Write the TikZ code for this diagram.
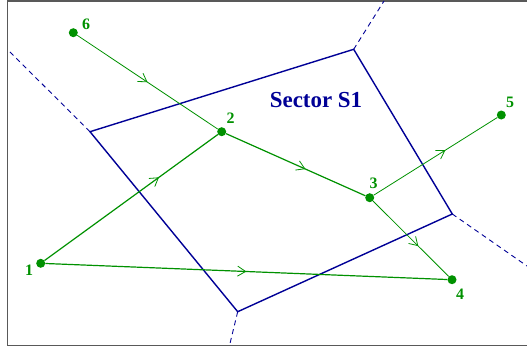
\documentclass[tikz,border=0pt]{standalone}
\usepackage{fontspec}
\setmainfont{Liberation Serif}
\usetikzlibrary{arrows.meta,decorations.markings}
\definecolor{pgreen}{RGB}{0,145,0}
\definecolor{pblue}{RGB}{0,0,150}
\tikzset{
  dot/.style={circle,fill=pgreen,draw=none,minimum size=9bp,inner sep=0pt},
  lbl/.style={text=pgreen,font=\fontsize{16}{16}\selectfont\bfseries,anchor=base,inner sep=0pt},
  flow/.style={draw=pgreen,line width=0.8bp,postaction={decorate},
    decoration={markings,mark=at position #1 with {\arrow{Straight Barb[length=8bp,width=10bp,line width=0.8bp]}}}},
  flowthick/.style={flow=#1,line width=1.2bp},
  border/.style={draw=pblue,line width=1.4bp,line join=miter},
  bisect/.style={draw=pblue,line width=0.9bp,dash pattern=on 5bp off 4bp},
  frame/.style={draw=black!65,line width=1.3bp}
}
\begin{document}
\begin{tikzpicture}[x=1bp,y=-1bp]
\useasboundingbox (0,0) rectangle (527,349);
% frame
\draw[frame] (527,1) -- (7.5,1) -- (7.5,345.5) -- (527,345.5);
% sector corners
\coordinate (A) at (90,131.7);
\coordinate (B) at (353.7,49.3);
\coordinate (C) at (452.3,214);
\coordinate (D) at (237.7,311.7);
\coordinate (Ae) at (7.5,49.5);
\coordinate (Be) at (384,1);
\coordinate (Ce) at (527,266);
\coordinate (De) at (229.5,345.5);
\draw[bisect] (A) -- (Ae);
\draw[bisect] (B) -- (Be);
\draw[bisect] (C) -- (Ce);
\draw[bisect] (D) -- (De);
\draw[border] (A) -- (B) -- (C) -- (D) -- cycle;
\node[text=pblue,font=\fontsize{23}{23}\selectfont\bfseries,anchor=base,inner sep=0pt] (sec) at (316,107) {Sector S1};
% points
\node[dot] (p1) at (40.7,263.3) {};
\node[dot] (p2) at (221.7,131.7) {};
\node[dot] (p3) at (369.7,197.7) {};
\node[dot] (p4) at (452,279.7) {};
\node[dot] (p5) at (501.3,115) {};
\node[dot] (p6) at (73.3,32.7) {};
\node[lbl] (l1) at (29,275) {1};
\node[lbl] (l2) at (230.5,123.5) {2};
\node[lbl] (l3) at (373.5,188) {3};
\node[lbl] (l4) at (460,299) {4};
\node[lbl] (l5) at (510,107) {5};
\node[lbl] (l6) at (86,29) {6};
% flows
\path[flow=0.5] (p6) -- (p2);
\path[flowthick=0.66] (p1) -- (p2);
\path[flowthick=0.5] (p1) -- (p4);
\path[flowthick=0.57] (p2) -- (p3);
\path[flow=0.58] (p3) -- (p5);
\path[flow=0.6] (p3) -- (p4);
\end{tikzpicture}
\end{document}
